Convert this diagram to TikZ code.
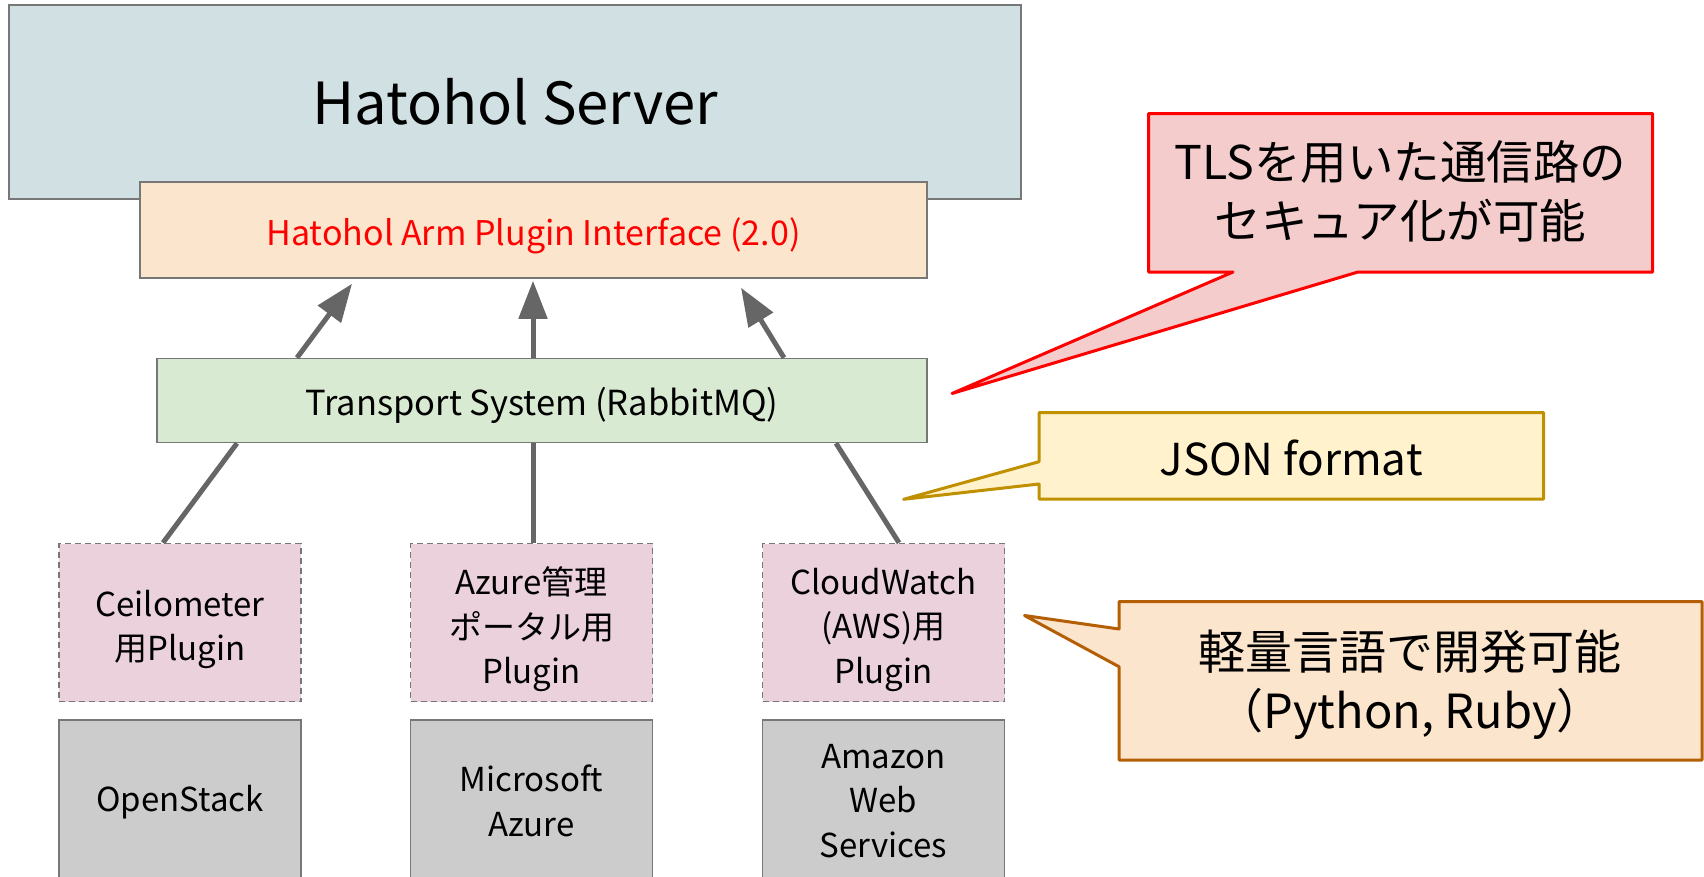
\documentclass[tikz,border=0pt]{standalone}
\usepackage{fontspec}
\setmainfont{Noto Sans CJK JP}
\usetikzlibrary{arrows.meta,calc}
\definecolor{serverfill}{HTML}{D0E0E3}
\definecolor{ifacefill}{HTML}{FCE5CD}
\definecolor{transfill}{HTML}{D9EAD3}
\definecolor{plugfill}{HTML}{EAD1DC}
\definecolor{cloudfill}{HTML}{CCCCCC}
\definecolor{edgegray}{HTML}{777777}
\definecolor{linkgray}{HTML}{666666}
\definecolor{redfill}{HTML}{F4CCCC}
\definecolor{redline}{HTML}{FF0000}
\definecolor{goldfill}{HTML}{FFF2CC}
\definecolor{goldline}{HTML}{BF9000}
\definecolor{orangefill}{HTML}{FCE5CD}
\definecolor{orangeline}{HTML}{B45F06}
\begin{document}
\begin{tikzpicture}[x=1pt,y=-1pt,
  box/.style={draw=edgegray, line width=1.5pt, inner sep=0pt},
  boxtext/.style={align=center, inner sep=0pt, text=black},
  plugbox/.style={box, fill=plugfill, dash pattern=on 6pt off 4pt, minimum width=242pt, minimum height=158pt},
  cloudbox/.style={box, fill=cloudfill, minimum width=242pt, minimum height=164pt},
  smalltext/.style={boxtext, font=\fontsize{33}{44.5}\selectfont},
  link/.style={draw=linkgray, line width=5pt},
  uplink/.style={link, -{Triangle[length=38pt,width=28pt]}},
  callout/.style={line width=3pt, line join=round},
  calltext/.style={align=center, inner sep=0pt, text=black}
]
\useasboundingbox (0,0) rectangle (1704,876);
\clip (0,0) rectangle (1704,876);

% main stack
\node[box, fill=serverfill, minimum width=1012pt, minimum height=194pt] (server) at (515,102) {};
\node[boxtext, font=\fontsize{58}{66}\selectfont] (servert) at (515,102) {Hatohol Server};
\node[box, fill=ifacefill, minimum width=787pt, minimum height=96pt] (iface) at (533.5,230) {};
\node[boxtext, text=red, font=\fontsize{34}{40}\selectfont] (ifacet) at (533.5,235.5)
  {Hatohol Arm Plugin Interface (2.0)};
\node[box, fill=transfill, minimum width=770pt, minimum height=84pt] (trans) at (542,400.5) {};
\node[boxtext, font=\fontsize{34.5}{40}\selectfont] (transt) at (542,405)
  {Transport System (RabbitMQ)};

% plugins
\node[plugbox] (p1) at (180,622.5) {};
\node[smalltext] (p1t) at (180,629.5) {Ceilometer\\用Plugin};
\node[plugbox] (p2) at (531.5,622.5) {};
\node[smalltext] (p2t) at (531.5,629.5) {Azure管理\\ポータル用\\Plugin};
\node[plugbox] (p3) at (883.5,622.5) {};
\node[smalltext] (p3t) at (883.5,629.5) {CloudWatch\\(AWS)用\\Plugin};

% clouds
\node[cloudbox] (c1) at (180,802) {};
\node[smalltext] (c1t) at (180,802) {OpenStack};
\node[cloudbox] (c2) at (531.5,802) {};
\node[smalltext] (c2t) at (531.5,801) {Microsoft\\Azure};
\node[cloudbox] (c3) at (883.5,802) {};
\node[smalltext] (c3t) at (883.5,801) {Amazon\\Web\\Services};

% connectors transport -> interface
\draw[uplink] ($(trans.north)+(-245,0)$) -- ($(iface.south)+(-181.5,5)$);
\draw[uplink] ($(trans.north)+(-9,0)$) -- ($(iface.south)+(-0.5,2)$);
\draw[uplink] ($(trans.north)+(242,0)$) -- ($(iface.south)+(207.5,9)$);

% connectors plugins -> transport
\draw[link] ($(p1.north)+(-17,0)$) -- ($(trans.south)+(-305,0)$);
\draw[link] ($(p2.north)+(1.5,0)$) -- ($(trans.south)+(-9,0)$);
\draw[link] ($(p3.north)+(15.5,0)$) -- ($(trans.south)+(294,0)$);

% callout: TLS
\coordinate (tlstip) at (952,393.5);
\filldraw[callout, draw=redline, fill=redfill]
  (1148.6,113.5) -- (1652.7,113.5) -- (1652.7,272) -- (1358,272) -- (tlstip)
  -- (1233,272) -- (1148.6,272) -- cycle;
\node[calltext, font=\fontsize{46.5}{59}\selectfont] (tls) at (1400.5,191.5)
  {TLSを用いた通信路の\\セキュア化が可能};

% callout: JSON
\coordinate (jsontip) at (903.6,499.3);
\filldraw[callout, draw=goldline, fill=goldfill]
  (1039,412.7) -- (1543.7,412.7) -- (1543.7,499) -- (1039,499) -- (1039,484)
  -- (jsontip) -- (1039,461.7) -- cycle;
\node[calltext, font=\fontsize{44}{52}\selectfont] (json) at (1291,458) {JSON format};

% callout: light language
\coordinate (langtip) at (1024.5,615.5);
\filldraw[callout, draw=orangeline, fill=orangefill]
  (1119,601.7) -- (1702,601.7) -- (1702,760) -- (1119,760) -- (1119,666.7)
  -- (langtip) -- (1119,629) -- cycle;
\node[calltext, font=\fontsize{47}{59}\selectfont] (lang) at (1410,684.5)
  {軽量言語で開発可能\\（Python, Ruby）};
\end{tikzpicture}
\end{document}
